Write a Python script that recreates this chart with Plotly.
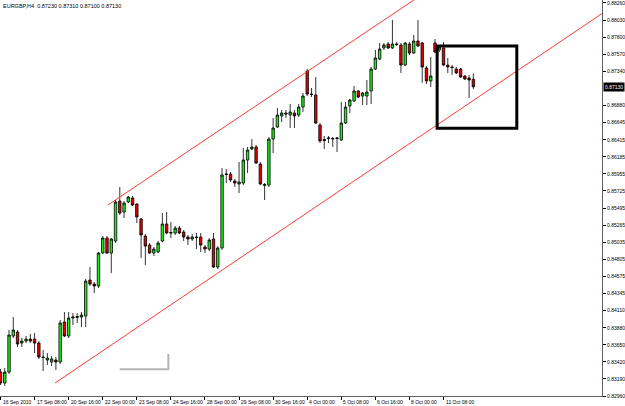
import plotly.graph_objects as go

# ---- data (EURGBP H4, bar index 0 = 16 Sep 2010 00:00) ----
opens = [0.83283, 0.83135, 0.83283, 0.83769, 0.83823, 0.83674, 0.83701, 0.83728, 0.83728, 0.83674,
         0.83486, 0.83445, 0.83418, 0.83445, 0.83418, 0.83957, 0.83769, 0.84011, 0.84018, 0.84025,
         0.84038, 0.84524, 0.84470, 0.84443, 0.84888, 0.85090, 0.84888, 0.85050, 0.85589, 0.85441,
         0.85576, 0.85630, 0.85549, 0.85347, 0.85117, 0.84996, 0.84888, 0.84902, 0.85050, 0.85279,
         0.85165, 0.85158, 0.85225, 0.85171, 0.85104, 0.85077, 0.85104, 0.85104, 0.84969, 0.84942,
         0.85077, 0.84699, 0.84956, 0.85947, 0.85953, 0.85859, 0.85819, 0.85832, 0.86142, 0.86291,
         0.86318, 0.86088, 0.85798, 0.85805, 0.86425, 0.86587, 0.86736, 0.86776, 0.86749, 0.86776,
         0.86749, 0.86857, 0.87343, 0.87032, 0.87019, 0.86614, 0.86419, 0.86432, 0.86425, 0.86432,
         0.86412, 0.86641, 0.86871, 0.86938, 0.87073, 0.87005, 0.87005, 0.87073, 0.87369, 0.87504,
         0.87653, 0.87707, 0.87653, 0.87707, 0.87693, 0.87423, 0.87707, 0.87585, 0.87747, 0.87720,
         0.87383, 0.87208, 0.87720, 0.87626, 0.87653, 0.87423, 0.87396, 0.87369, 0.87369, 0.87275,
         0.87248, 0.87230]
highs = [0.83324, 0.83337, 0.83850, 0.84025, 0.83850, 0.83742, 0.83769, 0.83796, 0.83809, 0.83701,
         0.83580, 0.83539, 0.83499, 0.83486, 0.83984, 0.84092, 0.84092, 0.84079, 0.84079, 0.84092,
         0.84537, 0.84699, 0.84497, 0.84902, 0.85117, 0.85117, 0.85090, 0.85603, 0.85778, 0.85589,
         0.85657, 0.85657, 0.85562, 0.85360, 0.85144, 0.85023, 0.84969, 0.85050, 0.85428, 0.85441,
         0.85306, 0.85252, 0.85252, 0.85198, 0.85131, 0.85144, 0.85158, 0.85158, 0.84996, 0.85090,
         0.85158, 0.84982, 0.86034, 0.86021, 0.85980, 0.85886, 0.86115, 0.86304, 0.86318, 0.86425,
         0.86345, 0.86115, 0.85832, 0.86452, 0.86709, 0.86844, 0.86817, 0.86817, 0.86898, 0.86817,
         0.86898, 0.87046, 0.87369, 0.87113, 0.87262, 0.86641, 0.86466, 0.86466, 0.86452, 0.86452,
         0.86924, 0.86924, 0.86965, 0.87140, 0.87086, 0.87059, 0.87221, 0.87396, 0.87626, 0.87720,
         0.87720, 0.87734, 0.88030, 0.87734, 0.87720, 0.87734, 0.87734, 0.87828, 0.88030, 0.87734,
         0.87410, 0.87531, 0.87774, 0.87693, 0.87734, 0.87518, 0.87423, 0.87396, 0.87383, 0.87289,
         0.87289, 0.87310]
lows = [0.83108, 0.83094, 0.83256, 0.83742, 0.83620, 0.83620, 0.83674, 0.83674, 0.83539, 0.83459,
        0.83297, 0.83378, 0.83364, 0.83310, 0.83391, 0.83755, 0.83742, 0.83917, 0.83944, 0.83890,
        0.83890, 0.84443, 0.84349, 0.84416, 0.84875, 0.84875, 0.84618, 0.85023, 0.85401, 0.85360,
        0.85562, 0.85522, 0.85293, 0.84821, 0.84726, 0.84875, 0.84848, 0.84888, 0.85036, 0.85144,
        0.85090, 0.85131, 0.85144, 0.85050, 0.84996, 0.85050, 0.84942, 0.84902, 0.84888, 0.84915,
        0.84686, 0.84672, 0.84929, 0.85832, 0.85846, 0.85778, 0.85697, 0.85805, 0.85967, 0.86277,
        0.86088, 0.85805, 0.85603, 0.85778, 0.86237, 0.86574, 0.86655, 0.86709, 0.86574, 0.86574,
        0.86722, 0.86790, 0.87005, 0.86992, 0.86628, 0.86372, 0.86291, 0.86372, 0.86318, 0.86250,
        0.86399, 0.86628, 0.86776, 0.86924, 0.86978, 0.86884, 0.86884, 0.86898, 0.87356, 0.87491,
        0.87626, 0.87639, 0.87639, 0.87680, 0.87316, 0.87410, 0.87558, 0.87572, 0.87666, 0.87181,
        0.87167, 0.87127, 0.87585, 0.87599, 0.87410, 0.87316, 0.87289, 0.87302, 0.87248, 0.87221,
        0.86978, 0.87100]
closes = [0.83135, 0.83283, 0.83782, 0.83850, 0.83661, 0.83701, 0.83728, 0.83701, 0.83674, 0.83486,
          0.83479, 0.83472, 0.83459, 0.83418, 0.83944, 0.83769, 0.84011, 0.84025, 0.84032, 0.84052,
          0.84510, 0.84470, 0.84443, 0.84888, 0.85090, 0.84888, 0.85077, 0.85576, 0.85428, 0.85562,
          0.85643, 0.85535, 0.85374, 0.85131, 0.84982, 0.84888, 0.84942, 0.85023, 0.85279, 0.85158,
          0.85158, 0.85225, 0.85158, 0.85104, 0.85077, 0.85104, 0.85097, 0.84996, 0.84942, 0.85063,
          0.84699, 0.84956, 0.85940, 0.85953, 0.85873, 0.85832, 0.85846, 0.86142, 0.86277, 0.86318,
          0.86102, 0.85819, 0.85812, 0.86425, 0.86574, 0.86749, 0.86776, 0.86763, 0.86790, 0.86736,
          0.86857, 0.87005, 0.87032, 0.87026, 0.86641, 0.86399, 0.86405, 0.86439, 0.86432, 0.86439,
          0.86641, 0.86857, 0.86951, 0.87073, 0.86992, 0.87046, 0.87059, 0.87369, 0.87518, 0.87639,
          0.87693, 0.87653, 0.87707, 0.87700, 0.87423, 0.87720, 0.87585, 0.87747, 0.87680, 0.87396,
          0.87208, 0.87275, 0.87599, 0.87666, 0.87423, 0.87396, 0.87390, 0.87316, 0.87262, 0.87235,
          0.87221, 0.87130]
bars = list(range(len(opens)))

x_tick_bars = [0, 8, 16, 24, 32, 40, 48, 56, 64, 72, 80, 88, 96, 104]
x_tick_labels = ["16 Sep 2010", "17 Sep 08:00", "20 Sep 16:00", "22 Sep 00:00", "23 Sep 08:00",
                 "24 Sep 16:00", "28 Sep 00:00", "29 Sep 08:00", "30 Sep 16:00", "4 Oct 00:00",
                 "5 Oct 08:00", "6 Oct 16:00", "8 Oct 00:00", "11 Oct 08:00"]
y_tick_labels = ["0.88260", "0.88030", "0.87800", "0.87570", "0.87340", "0.86880", "0.86645",
                 "0.86415", "0.86185", "0.85955", "0.85725", "0.85495", "0.85265", "0.85035",
                 "0.84805", "0.84575", "0.84345", "0.84110", "0.83880", "0.83650", "0.83420",
                 "0.83190", "0.82960"]

# user-drawn objects (bar index, price)
lower_channel_bars = [12.8, 141.2]
lower_channel_prices = [0.83135, 0.88118]
upper_channel_bars = [25.2, 141.2]
upper_channel_prices = [0.85535, 0.90000]
box_bars = [102.5, 121.2]
box_prices = [0.86570, 0.87680]
gray_mark_bars = [28.0, 39.4, 39.4]
gray_mark_prices = [0.83320, 0.83320, 0.83526]

title_text = "EURGBP,H4  0.87230 0.87310 0.87100 0.87130"
last_price = closes[-1]

GREEN = "#1af01a"
RED = "#e80000"
FONT = "Liberation Sans"

fig = go.Figure()
fig.add_trace(go.Scatter(x=lower_channel_bars, y=lower_channel_prices, mode="lines",
                         line=dict(color="#ff3a3a", width=1), hoverinfo="skip", showlegend=False))
fig.add_trace(go.Scatter(x=upper_channel_bars, y=upper_channel_prices, mode="lines",
                         line=dict(color="#ff3a3a", width=1), hoverinfo="skip", showlegend=False))
fig.add_trace(go.Scatter(x=gray_mark_bars, y=gray_mark_prices, mode="lines",
                         line=dict(color="#b4b4b4", width=2), hoverinfo="skip", showlegend=False))
fig.add_trace(go.Candlestick(
    x=bars, open=opens, high=highs, low=lows, close=closes,
    increasing=dict(fillcolor=GREEN, line=dict(color="black", width=0.8)),
    decreasing=dict(fillcolor=RED, line=dict(color="black", width=0.8)),
    whiskerwidth=0, showlegend=False, hoverinfo="skip"))

fig.add_shape(type="rect", xref="x", yref="y", x0=box_bars[0], x1=box_bars[1],
              y0=box_prices[0], y1=box_prices[1], line=dict(color="black", width=3))

annotations = [dict(x=0, y=1, xref="paper", yref="paper", xanchor="left", yanchor="top",
                    text=title_text, showarrow=False, xshift=1, yshift=-1,
                    font=dict(family=FONT, size=5.5, color="black")),
               dict(x=1, y=last_price, xref="paper", yref="y", xanchor="left", yanchor="middle",
                    text="%.5f" % last_price, showarrow=False, xshift=1,
                    bgcolor="black", borderpad=1,
                    font=dict(family=FONT, size=5, color="white"))]
for b, lab in zip(x_tick_bars, x_tick_labels):
    annotations.append(dict(x=b, y=0, xref="x", yref="paper", xanchor="left", yanchor="top",
                            text=lab, showarrow=False, xshift=0, yshift=-1,
                            font=dict(family=FONT, size=5, color="black")))

fig.update_layout(
    width=625, height=406,
    margin=dict(l=0, r=23, t=0, b=10),
    paper_bgcolor="white", plot_bgcolor="white",
    showlegend=False,
    boxgap=0.18,
    annotations=annotations,
    xaxis=dict(range=[-0.12, 141.2], rangeslider=dict(visible=False), showgrid=False,
               zeroline=False, showline=True, linecolor="#606060", linewidth=1, mirror=True,
               ticks="outside", tickvals=x_tick_bars, ticklen=3, tickcolor="black",
               showticklabels=False, fixedrange=True),
    yaxis=dict(range=[0.82960, 0.88300], side="right", showgrid=False, zeroline=False,
               showline=True, linecolor="#606060", linewidth=1,
               tickvals=[float(v) for v in y_tick_labels], ticktext=y_tick_labels,
               ticks="outside", ticklen=3, tickcolor="black", ticklabeloverflow="allow",
               tickfont=dict(family=FONT, size=5, color="black"), fixedrange=True),
)

fig.write_html("out.html")
